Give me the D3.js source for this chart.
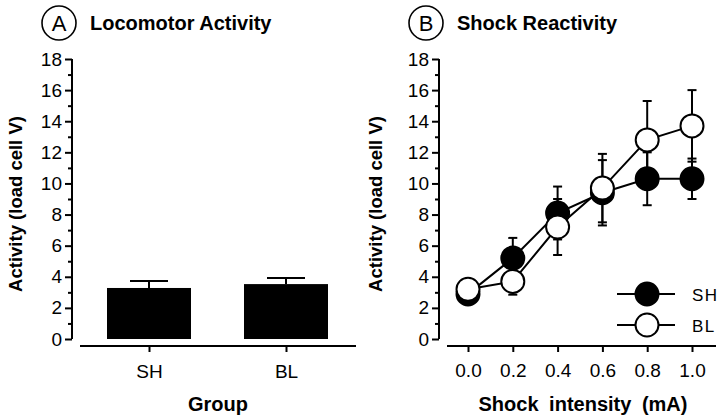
<!DOCTYPE html>
<html>
<head>
<meta charset="utf-8">
<script src="https://cdn.jsdelivr.net/npm/d3@7"></script>
<style>
body { margin: 0; background: #fff; }
svg { font-family: "Liberation Sans", Arial, sans-serif; }
.tick text { font-size: 19px; fill: #000; }
.title { font-size: 20px; font-weight: bold; }
.axlabel { font-size: 18.5px; font-weight: bold; }
</style>
</head>
<body>
<div id="chart"></div>
<script>
// data
var groups = ["SH", "BL"];
var groupMeans = [3.28, 3.53];
var groupErr = [0.45, 0.39];

var intensities = [0.0, 0.2, 0.4, 0.6, 0.8, 1.0];
var shMeans = [2.9, 5.2, 8.1, 9.4, 10.3, 10.3];
var shErr = [0.3, 1.3, 1.7, 2.1, 1.7, 1.3];
var blMeans = [3.2, 3.7, 7.2, 9.7, 12.8, 13.7];
var blErr = [0.3, 0.85, 1.8, 2.2, 2.5, 2.3];

var yMajor = [0, 2, 4, 6, 8, 10, 12, 14, 16, 18];
var yMinor = [1, 3, 5, 7, 9, 11, 13, 15, 17];
var xTicks = [0.0, 0.2, 0.4, 0.6, 0.8, 1.0];

var width = 720, height = 419;
var svg = d3.select("#chart").append("svg")
    .attr("width", width)
    .attr("height", height);

var y = d3.scaleLinear().domain([0, 18]).range([339, 59]);

function yAxis(x0) {
    var g = svg.append("g").attr("transform", "translate(" + x0 + ",0)");
    g.call(d3.axisLeft(y).tickValues(yMajor).tickSize(7).tickPadding(3));
    var m = svg.append("g").attr("transform", "translate(" + x0 + ",0)");
    m.call(d3.axisLeft(y).tickValues(yMinor).tickSize(4).tickFormat(""));
    m.select(".domain").remove();
    [g, m].forEach(function(s) {
        s.selectAll("line").attr("stroke", "#000").attr("stroke-width", 2);
        s.selectAll(".domain").attr("stroke", "#000").attr("stroke-width", 2)
            .attr("d", "M0," + y(18) + "V" + y(0));
    });
}

function panelTitle(cx, letter, text) {
    svg.append("circle").attr("cx", cx).attr("cy", 23).attr("r", 17)
        .attr("fill", "none").attr("stroke", "#000").attr("stroke-width", 1.6);
    svg.append("text").attr("x", cx).attr("y", 31).attr("text-anchor", "middle")
        .style("font-size", "22px").text(letter);
    svg.append("text").attr("class", "title").attr("x", cx + 31).attr("y", 30).text(text);
}

function yLabel(x0) {
    svg.append("text").attr("class", "axlabel")
        .attr("transform", "translate(" + x0 + ",204) rotate(-90)")
        .attr("text-anchor", "middle")
        .text("Activity (load cell V)");
}

// ---- panel A
panelTitle(59, "A", "Locomotor Activity");
yLabel(22);
yAxis(72);

var xA = d3.scalePoint().domain(groups).range([149, 286]);
var barW = 84;

svg.append("g").attr("transform", "translate(0,346)")
    .call(d3.axisBottom(xA).tickSize(6).tickPadding(13))
    .call(function(g) {
        g.select(".domain").attr("d", "M80,0H356").attr("stroke-width", 2.2);
        g.selectAll("line").attr("stroke-width", 2);
    });

// error bars (upper only)
svg.selectAll(".errA").data(groups).enter().append("g")
    .each(function(d, i) {
        var g = d3.select(this), cx = xA(d);
        g.append("line").attr("x1", cx).attr("x2", cx)
            .attr("y1", y(groupMeans[i])).attr("y2", y(groupMeans[i] + groupErr[i]))
            .attr("stroke", "#000").attr("stroke-width", 2);
        g.append("line").attr("x1", cx - 19).attr("x2", cx + 19)
            .attr("y1", y(groupMeans[i] + groupErr[i])).attr("y2", y(groupMeans[i] + groupErr[i]))
            .attr("stroke", "#000").attr("stroke-width", 2);
    });

svg.selectAll(".bar").data(groups).enter().append("rect")
    .attr("x", function(d) { return xA(d) - barW / 2; })
    .attr("width", barW)
    .attr("y", function(d, i) { return y(groupMeans[i]); })
    .attr("height", function(d, i) { return y(0) - y(groupMeans[i]); })
    .attr("fill", "#000");

svg.append("text").attr("class", "axlabel").attr("x", 218).attr("y", 411)
    .attr("text-anchor", "middle").style("font-size", "20px").text("Group");

// ---- panel B
panelTitle(426, "B", "Shock Reactivity");
yLabel(382);
yAxis(439);

var xB = d3.scaleLinear().domain([0, 1]).range([468, 692]);
svg.append("g").attr("transform", "translate(0,346)")
    .call(d3.axisBottom(xB).tickValues(xTicks).tickFormat(d3.format(".1f")).tickSize(6).tickPadding(12))
    .call(function(g) {
        g.select(".domain").attr("d", "M447,0H716").attr("stroke-width", 2.2);
        g.selectAll("line").attr("stroke-width", 2);
    });

svg.append("text").attr("class", "axlabel").attr("x", 583).attr("y", 411)
    .attr("text-anchor", "middle").style("font-size", "20px").style("word-spacing", "5px")
    .text("Shock intensity (mA)");

var line = d3.line().x(function(d) { return xB(d[0]); }).y(function(d) { return y(d[1]); });
var r = 11.5;

function series(means, errs, fill) {
    var pts = intensities.map(function(v, i) { return [v, means[i], errs[i]]; });
    var g = svg.append("g");
    pts.forEach(function(p) {
        var cx = xB(p[0]);
        [p[1] + p[2], p[1] - p[2]].forEach(function(e) {
            g.append("line").attr("x1", cx).attr("x2", cx).attr("y1", y(p[1])).attr("y2", y(e))
                .attr("stroke", "#000").attr("stroke-width", 2);
            g.append("line").attr("x1", cx - 4.5).attr("x2", cx + 4.5).attr("y1", y(e)).attr("y2", y(e))
                .attr("stroke", "#000").attr("stroke-width", 2);
        });
    });
    g.append("path").datum(pts).attr("d", line)
        .attr("fill", "none").attr("stroke", "#000").attr("stroke-width", 2);
    g.selectAll("circle").data(pts).enter().append("circle")
        .attr("cx", function(d) { return xB(d[0]); })
        .attr("cy", function(d) { return y(d[1]); })
        .attr("r", r)
        .attr("fill", fill).attr("stroke", "#000").attr("stroke-width", 2);
}
series(shMeans, shErr, "#000");
series(blMeans, blErr, "#fff");

// legend
var legend = [["SH", "#000", 294], ["BL", "#fff", 325]];
legend.forEach(function(l) {
    svg.append("line").attr("x1", 617).attr("x2", 675).attr("y1", l[2]).attr("y2", l[2])
        .attr("stroke", "#000").attr("stroke-width", 2);
    svg.append("circle").attr("cx", 647).attr("cy", l[2]).attr("r", r)
        .attr("fill", l[1]).attr("stroke", "#000").attr("stroke-width", 2);
    svg.append("text").attr("x", 692).attr("y", l[2] + 6.5).style("font-size", "17px")
        .style("letter-spacing", "1.5px").text(l[0]);
});
</script>
</body>
</html>
